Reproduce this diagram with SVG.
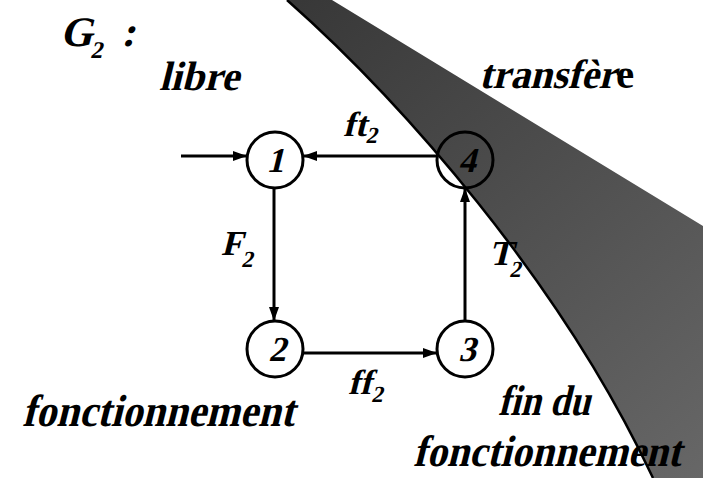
<svg xmlns="http://www.w3.org/2000/svg" width="703" height="478" viewBox="0 0 703 478">
<defs>
<linearGradient id="g" gradientUnits="userSpaceOnUse" x1="300" y1="0" x2="703" y2="478">
<stop offset="0" stop-color="#383838"/>
<stop offset="1" stop-color="#676767"/>
</linearGradient>
<marker id="ah" markerWidth="14" markerHeight="10" refX="13" refY="5" orient="auto" markerUnits="userSpaceOnUse">
<path d="M0,0 L14,5 L0,10 Z" fill="#000"/>
</marker>
<style>
.t{font-family:'Liberation Serif','Times New Roman',serif;font-weight:bold;font-style:normal;fill:#000}
.n{fill:none;stroke:#000;stroke-width:3}
.e{fill:none;stroke:#000;stroke-width:3;marker-end:url(#ah)}
</style>
</defs>
<g id="band">
<path d="M287,0 L332,0 L703,226 L703,478 L653,478 C560,280 400,100 287,0 Z" fill="url(#g)"/>
<path d="M287,0 C400,100 560,280 653,478" fill="none" stroke="#000" stroke-width="2.5"/>
</g>
<g id="connectors">
<line class="e" x1="181" y1="156" x2="246" y2="156"/>
<line class="e" x1="437" y1="156" x2="304" y2="156"/>
<line class="e" x1="274" y1="189" x2="274" y2="320"/>
<line class="e" x1="304" y1="353" x2="436" y2="353"/>
<line class="e" x1="465" y1="320" x2="465" y2="189"/>
</g>
<g id="node1"><circle class="n" cx="275" cy="160" r="28"/><text class="t" transform="translate(275 172) skewX(-14)" font-size="35" text-anchor="middle">1</text></g>
<g id="node2"><circle class="n" cx="275" cy="349" r="28"/><text class="t" transform="translate(277 361) skewX(-14)" font-size="35" text-anchor="middle">2</text></g>
<g id="node3"><circle class="n" cx="465" cy="349" r="28"/><text class="t" transform="translate(467 361) skewX(-14)" font-size="35" text-anchor="middle">3</text></g>
<g id="node4"><circle class="n" cx="465" cy="160" r="28"/><text class="t" transform="translate(467 172) skewX(-14)" font-size="35" text-anchor="middle">4</text></g>
<g id="labels">
<text class="t" transform="translate(60 46) skewX(-14)" font-size="42">G<tspan x="33" dy="12" font-size="24">2</tspan><tspan x="61" dy="-12">:</tspan></text>
<text class="t" transform="translate(159 90) skewX(-14)" font-size="41" textLength="80" lengthAdjust="spacingAndGlyphs">libre</text>
<g id="transfere">
<text class="t" transform="translate(479 88) skewX(-14)" font-size="41" textLength="137" lengthAdjust="spacingAndGlyphs">transfèr</text>
<text class="t" x="616" y="88" font-size="41">e</text>
</g>
<text class="t" transform="translate(343 136) skewX(-14)" font-size="35">ft<tspan x="24" dy="7" font-size="23">2</tspan></text>
<text class="t" transform="translate(221 255) skewX(-14)" font-size="35">F<tspan x="23" dy="12" font-size="23">2</tspan></text>
<text class="t" transform="translate(489 265) skewX(-14)" font-size="35">T<tspan x="23" dy="12" font-size="23">2</tspan></text>
<text class="t" transform="translate(348 394) skewX(-14)" font-size="35">ff<tspan x="25" dy="8" font-size="23">2</tspan></text>
<text class="t" transform="translate(22 426) skewX(-14)" font-size="45" textLength="272" lengthAdjust="spacingAndGlyphs">fonctionnement</text>
<text class="t" transform="translate(498 415) skewX(-14)" font-size="43" textLength="92" lengthAdjust="spacingAndGlyphs">fin du</text>
<text class="t" transform="translate(413 466) skewX(-14)" font-size="44" textLength="268" lengthAdjust="spacingAndGlyphs">fonctionnement</text>
</g>
</svg>
